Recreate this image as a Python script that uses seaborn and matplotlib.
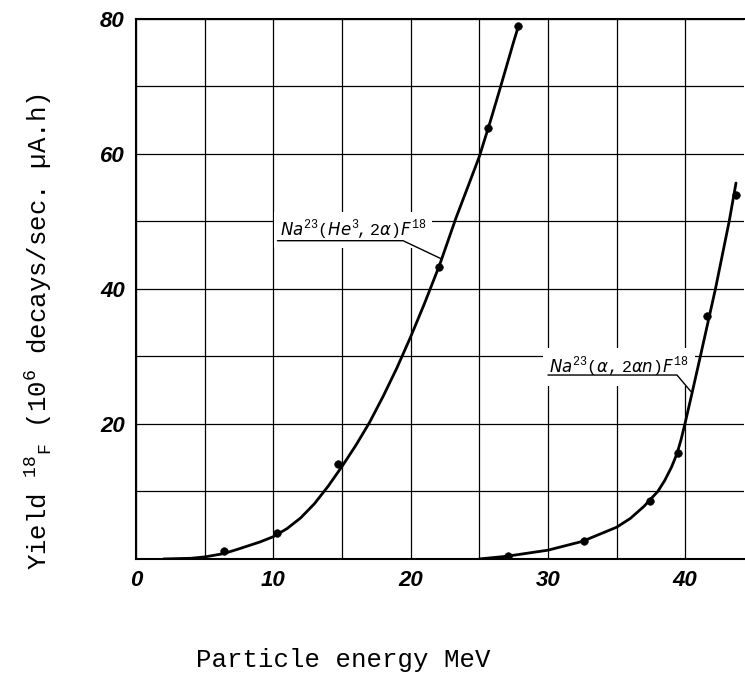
import matplotlib
matplotlib.use("Agg")
import matplotlib.pyplot as plt
import pandas as pd
import seaborn as sns

# measured points (energy MeV, yield 10^6 decays/sec per uA.h)
he3_energy = [6.4, 10.3, 14.7, 22.1, 25.6, 27.8]
he3_yield = [1.2, 3.8, 14.1, 43.3, 63.8, 79.0]
alpha_energy = [27.1, 32.6, 37.4, 39.5, 41.6, 43.7]
alpha_yield = [0.4, 2.6, 8.6, 15.7, 36.0, 53.9]

# hand drawn curves
he3_curve_energy = [2.0, 4.0, 5.0, 6.4, 7.5, 9.0, 10.0, 11.0, 12.0, 13.0, 14.0, 15.0,
                    16.0, 17.0, 18.0, 19.0, 20.0, 21.0, 22.1, 23.3, 24.2, 25.0,
                    25.8, 26.5, 27.1, 27.5, 27.8]
he3_curve_yield = [0.0, 0.1, 0.3, 0.8, 1.5, 2.5, 3.3, 4.5, 6.1, 8.2, 10.8, 13.7,
                   16.8, 20.2, 24.1, 28.3, 32.9, 37.8, 43.5, 50.5, 55.3, 59.6,
                   64.8, 69.6, 73.8, 76.6, 78.6]
alpha_curve_energy = [25.0, 27.0, 30.0, 32.5, 35.0, 36.0, 37.0, 38.0, 38.5, 39.0,
                      39.4, 39.7, 40.0, 40.5, 41.1, 42.2, 43.2, 43.7]
alpha_curve_yield = [0.0, 0.4, 1.3, 2.6, 4.7, 6.0, 7.8, 10.0, 11.6, 13.6,
                     15.6, 17.7, 20.2, 24.6, 30.0, 40.0, 50.0, 55.7]

x_ticks = [0, 5, 10, 15, 20, 25, 30, 35, 40]
x_tick_labels = ["0", "", "10", "", "20", "", "30", "", "40"]
y_ticks = [0, 10, 20, 30, 40, 50, 60, 70, 80]
y_tick_labels = ["", "", "20", "", "40", "", "60", "", "80"]

he3_label = r"$Na^{23}(He^{3}\!,2\alpha)F^{18}$"
alpha_label = r"$Na^{23}(\alpha,2\alpha n)F^{18}$"

sns.set_theme(style="white")
plt.rcParams["mathtext.fontset"] = "custom"
plt.rcParams["mathtext.rm"] = "Liberation Mono"
plt.rcParams["mathtext.it"] = "DejaVu Sans:italic"
plt.rcParams["mathtext.default"] = "it"

fig = plt.figure(figsize=(7.45, 6.85), dpi=100)
ax = fig.add_axes([0.1826, 0.184, 0.8164, 0.7883])

curves = pd.concat([
    pd.DataFrame({"energy": he3_curve_energy, "yield": he3_curve_yield, "reaction": "he3"}),
    pd.DataFrame({"energy": alpha_curve_energy, "yield": alpha_curve_yield, "reaction": "alpha"}),
], ignore_index=True)
points = pd.concat([
    pd.DataFrame({"energy": he3_energy, "yield": he3_yield, "reaction": "he3"}),
    pd.DataFrame({"energy": alpha_energy, "yield": alpha_yield, "reaction": "alpha"}),
], ignore_index=True)

sns.lineplot(data=curves, x="energy", y="yield", units="reaction", estimator=None,
             sort=False, color="black", linewidth=2.0, ax=ax, zorder=5)
sns.scatterplot(data=points, x="energy", y="yield", color="black", s=30,
                edgecolor="black", ax=ax, zorder=6)

ax.set_xlim(0, 44.3)
ax.set_ylim(0, 80)
ax.set_xticks(x_ticks)
ax.set_xticklabels(x_tick_labels)
ax.set_yticks(y_ticks)
ax.set_yticklabels(y_tick_labels)
ax.grid(True, color="black", linewidth=0.9)
ax.tick_params(length=0, pad=8)
for lab in ax.get_xticklabels() + ax.get_yticklabels():
    lab.set_fontfamily("Liberation Sans")
    lab.set_fontstyle("italic")
    lab.set_fontweight("bold")
    lab.set_fontsize(16)
    lab.set_color("black")

for side in ["left", "top", "bottom"]:
    ax.spines[side].set_color("black")
    ax.spines[side].set_linewidth(1.5)
ax.spines["right"].set_visible(False)

ax.set_xlabel("Particle energy MeV", family="Liberation Mono", fontsize=18.5, color="black")
ax.set_ylabel(r"Yield $^{\mathrm{18}}{}_{\mathrm{F}}$ ($\mathrm{10}^{\mathrm{6}}$ decays/sec. µA.h)",
              family="Liberation Mono", fontsize=18.5, color="black")
ax.xaxis.set_label_coords(0.34, -0.165)
ax.yaxis.set_label_coords(-0.135, 0.42)

# reaction labels with their leader lines
ax.text(10.5, 47.85, he3_label, fontsize=12, color="black", va="baseline", zorder=4,
        bbox=dict(boxstyle="square,pad=0.35", fc="white", ec="none"))
ax.plot([10.3, 19.45, 22.2], [47.15, 47.15, 44.5], color="black", linewidth=1.0, zorder=4.5)

ax.text(30.1, 27.55, alpha_label, fontsize=12, color="black", va="baseline", zorder=4,
        bbox=dict(boxstyle="square,pad=0.4", fc="white", ec="none"))
ax.plot([30.0, 39.4, 40.5], [27.25, 27.25, 24.6], color="black", linewidth=1.0, zorder=4.5)

fig.savefig("out.png", dpi=100)
